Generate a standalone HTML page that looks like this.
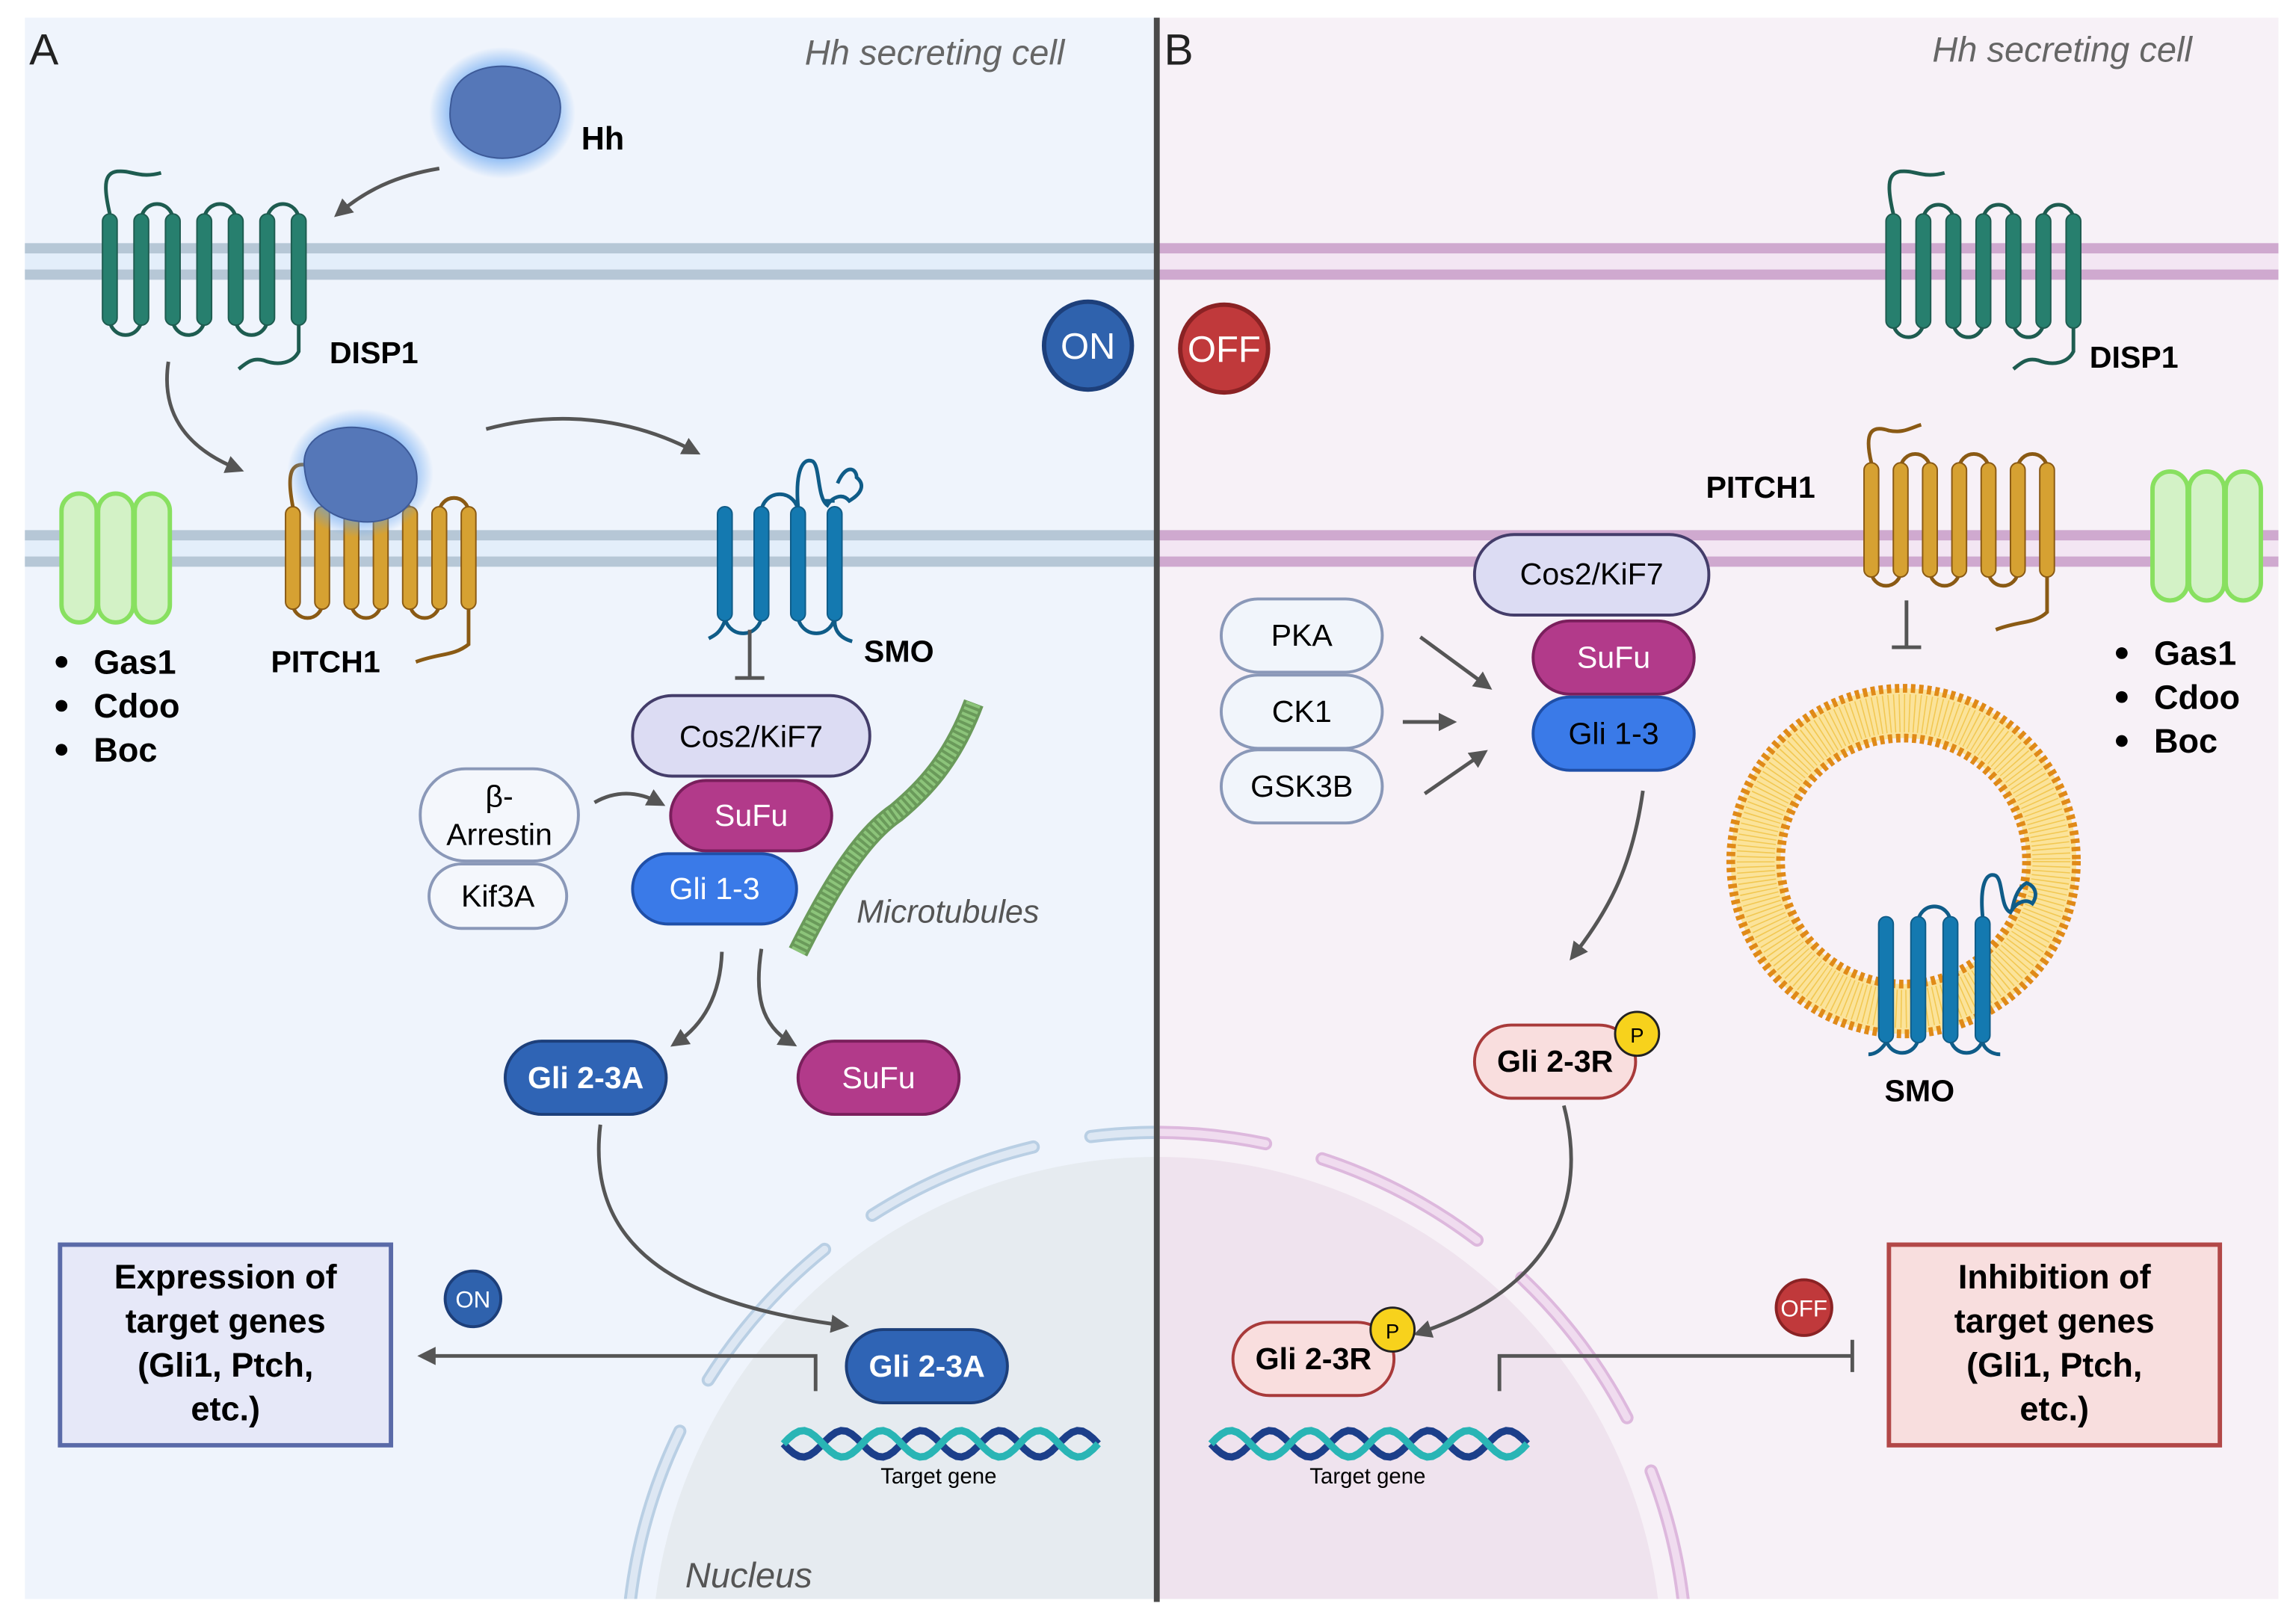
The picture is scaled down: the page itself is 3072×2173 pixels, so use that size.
<!DOCTYPE html>
<html><head><meta charset="utf-8">
<style>
html,body{margin:0;padding:0;background:#fff;overflow:hidden;width:3072px;height:2173px}
svg{display:block}
text{font-family:"Liberation Sans",sans-serif}
</style></head>
<body>
<svg id="s" width="3072" height="2173" viewBox="0 0 1568 1109" xmlns="http://www.w3.org/2000/svg">
<defs>
<radialGradient id="glow"><stop offset="0.6" stop-color="#5a9ef0" stop-opacity="0.8"/><stop offset="1" stop-color="#5a9ef0" stop-opacity="0"/></radialGradient>
<marker id="ar" viewBox="0 0 10 10" refX="6" refY="5" markerWidth="5" markerHeight="5" orient="auto"><path d="M0,0 L10,5 L0,10 z" fill="#555"/></marker>
<clipPath id="cA"><rect x="17" y="12" width="771" height="1080"/></clipPath>
<clipPath id="cB"><rect x="792" y="12" width="764" height="1080"/></clipPath>
</defs>
<rect x="17" y="12" width="773" height="1080" fill="#eff4fc"/>
<rect x="790" y="12" width="766" height="1080" fill="#f7f1f7"/>
<g clip-path="url(#cA)"><path d="M447.7,1092 A345,345 0 0 1 1132.3,1092 Z" fill="#e6ebf0"/></g>
<g clip-path="url(#cB)"><path d="M447.7,1092 A345,345 0 0 1 1132.3,1092 Z" fill="#efe3ee"/></g>
<g fill="none" stroke-width="9" stroke-linecap="round">
<g clip-path="url(#cA)">
<path d="M430.6,1092 A362,362 0 0 1 1149.4,1092" stroke-dasharray="120 40" stroke="#b9cfe4"/>
<path d="M430.6,1092 A362,362 0 0 1 1149.4,1092" stroke-dasharray="120 40" stroke="#dde7f3" stroke-width="5"/>
</g>
<g clip-path="url(#cB)">
<path d="M430.6,1092 A362,362 0 0 1 1149.4,1092" stroke-dasharray="120 40" stroke="#ddb8dd"/>
<path d="M430.6,1092 A362,362 0 0 1 1149.4,1092" stroke-dasharray="120 40" stroke="#f0dcef" stroke-width="5"/>
</g>
</g>
<g>
<rect x="17" y="168" width="773" height="22" fill="#e3eefa"/>
<rect x="17" y="166" width="773" height="7" fill="#b6c7d6"/>
<rect x="17" y="184" width="773" height="7" fill="#b6c7d6"/>
<rect x="17" y="364" width="773" height="22" fill="#e3eefa"/>
<rect x="17" y="362" width="773" height="7" fill="#b6c7d6"/>
<rect x="17" y="380" width="773" height="7" fill="#b6c7d6"/>
<rect x="790" y="168" width="766" height="22" fill="#f3e6f3"/>
<rect x="790" y="166" width="766" height="7" fill="#cfa9cf"/>
<rect x="790" y="184" width="766" height="7" fill="#cfa9cf"/>
<rect x="790" y="364" width="766" height="22" fill="#f3e6f3"/>
<rect x="790" y="362" width="766" height="7" fill="#cfa9cf"/>
<rect x="790" y="380" width="766" height="7" fill="#cfa9cf"/>
</g>
<rect x="788" y="12" width="4" height="1082" fill="#4a4a4a"/>
<circle cx="1300" cy="588" r="101" fill="none" stroke="#fbe39a" stroke-width="34"/>
<circle cx="1300" cy="588" r="101" fill="none" stroke="#f0c040" stroke-width="26" stroke-dasharray="0.8 2.6" opacity="0.8"/>
<circle cx="1300" cy="588" r="118" fill="none" stroke="#e08a18" stroke-width="6" stroke-dasharray="3 2.5"/>
<circle cx="1300" cy="588" r="84" fill="none" stroke="#e08a18" stroke-width="6" stroke-dasharray="3 2.5"/>
<g id="prot"></g>
<text x="20" y="44" font-size="30" fill="#222">A</text>
<text x="795" y="44" font-size="30" fill="#222">B</text>
<text x="727" y="44" font-size="24" font-style="italic" fill="#666" text-anchor="end">Hh secreting cell</text>
<text x="1497" y="42" font-size="24" font-style="italic" fill="#666" text-anchor="end">Hh secreting cell</text>
<ellipse cx="343" cy="77" rx="50" ry="45" fill="url(#glow)"/>
<path d="M308,70 C310,45 345,40 365,50 C390,60 385,85 372,98 C355,112 330,110 318,100 C308,92 306,82 308,70z" fill="#5577b8" stroke="#3d5a98"/>
<text x="397" y="102" font-size="22" font-weight="bold">Hh</text>
<path d="M300,115 C270,120 250,130 232,145" fill="none" stroke="#555" stroke-width="2.5" marker-end="url(#ar)"/>
<text x="225" y="248" font-size="21" font-weight="bold">DISP1</text>
<text x="1427" y="251" font-size="21" font-weight="bold">DISP1</text>
<path d="M115,247 C110,280 125,305 162,320" fill="none" stroke="#555" stroke-width="2.5" marker-end="url(#ar)"/>
<path d="M332,293 C380,280 430,285 474,308" fill="none" stroke="#555" stroke-width="2.5" marker-end="url(#ar)"/>
<circle cx="743" cy="236" r="30" fill="#2f62ad" stroke="#1d3f7a" stroke-width="3"/>
<text x="743" y="245" font-size="25" fill="#fff" text-anchor="middle">ON</text>
<circle cx="836" cy="238" r="30" fill="#c0393b" stroke="#8a2224" stroke-width="3"/>
<text x="836" y="247" font-size="25" fill="#fff" text-anchor="middle">OFF</text>
<g font-size="23" font-weight="bold">
<circle cx="42" cy="452" r="4"/><text x="64" y="460">Gas1</text>
<circle cx="42" cy="482" r="4"/><text x="64" y="490">Cdoo</text>
<circle cx="42" cy="512" r="4"/><text x="64" y="520">Boc</text>
<circle cx="1449" cy="446" r="4"/><text x="1471" y="454">Gas1</text>
<circle cx="1449" cy="476" r="4"/><text x="1471" y="484">Cdoo</text>
<circle cx="1449" cy="506" r="4"/><text x="1471" y="514">Boc</text>
</g>
<text x="185" y="459" font-size="21" font-weight="bold">PITCH1</text>
<text x="1165" y="340" font-size="21" font-weight="bold">PITCH1</text>
<text x="590" y="452" font-size="21" font-weight="bold">SMO</text>
<text x="1287" y="752" font-size="21" font-weight="bold">SMO</text>
<path d="M512,430 V463 M502,463 H522" stroke="#555" stroke-width="2.5"/>
<path d="M1302,410 V442 M1292,442 H1312" stroke="#555" stroke-width="2.5"/>
<path d="M545,650 C570,600 590,570 612,555 C630,540 650,520 665,480" stroke="#6a9a5a" stroke-width="14" fill="none"/>
<path d="M545,650 C570,600 590,570 612,555 C630,540 650,520 665,480" stroke="#8cc47a" stroke-width="10" fill="none" stroke-dasharray="2 2"/>
<text x="585" y="630" font-size="22" font-style="italic" fill="#555">Microtubules</text>
<rect x="432" y="475" width="162" height="55" rx="27" fill="#dcdcf3" stroke="#443d6a" stroke-width="2"/>
<text x="513" y="510" font-size="21" text-anchor="middle">Cos2/KiF7</text>
<rect x="458" y="533" width="110" height="48" rx="24" fill="#b23a8a" stroke="#7a1f5c" stroke-width="2"/>
<text x="513" y="564" font-size="21" fill="#fff" text-anchor="middle">SuFu</text>
<rect x="432" y="583" width="112" height="48" rx="24" fill="#3a7ae8" stroke="#1f4fa8" stroke-width="2"/>
<text x="488" y="614" font-size="21" fill="#fff" text-anchor="middle">Gli 1-3</text>
<rect x="287" y="525" width="108" height="63" rx="31" fill="#f4f7fc" stroke="#8a98b8" stroke-width="2"/>
<text x="341" y="551" font-size="21" text-anchor="middle">β-</text>
<text x="341" y="577" font-size="21" text-anchor="middle">Arrestin</text>
<rect x="293" y="590" width="94" height="44" rx="22" fill="#f4f7fc" stroke="#8a98b8" stroke-width="2"/>
<text x="340" y="619" font-size="21" text-anchor="middle">Kif3A</text>
<path d="M406,548 C420,540 435,540 450,548" fill="none" stroke="#555" stroke-width="2.5" marker-end="url(#ar)"/>
<path d="M493,650 C492,680 480,700 462,712" fill="none" stroke="#555" stroke-width="2.5" marker-end="url(#ar)"/>
<path d="M520,648 C515,680 520,700 540,712" fill="none" stroke="#555" stroke-width="2.5" marker-end="url(#ar)"/>
<rect x="345" y="711" width="110" height="50" rx="25" fill="#2f64b5" stroke="#1d3f7a" stroke-width="2"/>
<text x="400" y="743" font-size="21" font-weight="bold" fill="#fff" text-anchor="middle">Gli 2-3A</text>
<rect x="545" y="711" width="110" height="50" rx="25" fill="#b23a8a" stroke="#7a1f5c" stroke-width="2"/>
<text x="600" y="743" font-size="21" fill="#fff" text-anchor="middle">SuFu</text>
<path d="M410,768 C400,850 460,890 575,905" fill="none" stroke="#555" stroke-width="2.5" marker-end="url(#ar)"/>
<rect x="578" y="908" width="110" height="50" rx="25" fill="#2f64b5" stroke="#1d3f7a" stroke-width="2"/>
<text x="633" y="940" font-size="21" font-weight="bold" fill="#fff" text-anchor="middle">Gli 2-3A</text>
<path d="M557,950 V926 H290" fill="none" stroke="#555" stroke-width="2.5" marker-end="url(#ar)"/>
<circle cx="323" cy="887" r="19" fill="#2f62ad" stroke="#1d3f7a" stroke-width="2"/>
<text x="323" y="893" font-size="16" fill="#fff" text-anchor="middle">ON</text>
<rect x="41" y="850" width="226" height="137" fill="#e6e8f8" stroke="#5a6aa8" stroke-width="3"/>
<g font-size="23" font-weight="bold" text-anchor="middle">
<text x="154" y="880">Expression of</text><text x="154" y="910">target genes</text><text x="154" y="940">(Gli1, Ptch,</text><text x="154" y="970">etc.)</text>
</g>
<g id="dnaA"></g>
<text x="641" y="1013" font-size="15" text-anchor="middle">Target gene</text>
<text x="468" y="1084" font-size="24" font-style="italic" fill="#555">Nucleus</text>
<rect x="1007" y="365" width="160" height="55" rx="27" fill="#dcdcf3" stroke="#443d6a" stroke-width="2"/>
<text x="1087" y="399" font-size="21" text-anchor="middle">Cos2/KiF7</text>
<rect x="1047" y="424" width="110" height="50" rx="25" fill="#b23a8a" stroke="#7a1f5c" stroke-width="2"/>
<text x="1102" y="456" font-size="21" fill="#fff" text-anchor="middle">SuFu</text>
<rect x="1047" y="476" width="110" height="50" rx="25" fill="#3a7ae8" stroke="#1f4fa8" stroke-width="2"/>
<text x="1102" y="508" font-size="21" text-anchor="middle">Gli 1-3</text>
<g fill="#f1f5fb" stroke="#8a98b8" stroke-width="2">
<rect x="834" y="409" width="110" height="50" rx="25"/>
<rect x="834" y="461" width="110" height="50" rx="25"/>
<rect x="834" y="512" width="110" height="50" rx="25"/>
</g>
<g font-size="21" text-anchor="middle"><text x="889" y="441">PKA</text><text x="889" y="493">CK1</text><text x="889" y="544">GSK3B</text></g>
<path d="M970,435 L1015,468" stroke="#555" stroke-width="2.5" marker-end="url(#ar)"/>
<path d="M958,493 L990,493" stroke="#555" stroke-width="2.5" marker-end="url(#ar)"/>
<path d="M973,542 L1012,515" stroke="#555" stroke-width="2.5" marker-end="url(#ar)"/>
<path d="M1122,540 C1115,590 1100,620 1075,652" fill="none" stroke="#555" stroke-width="2.5" marker-end="url(#ar)"/>
<rect x="1007" y="700" width="110" height="50" rx="25" fill="#f9dede" stroke="#a83a3a" stroke-width="2"/>
<text x="1062" y="732" font-size="21" font-weight="bold" text-anchor="middle">Gli 2-3R</text>
<circle cx="1118" cy="706" r="15" fill="#f7d21c" stroke="#222" stroke-width="1.5"/>
<text x="1118" y="712" font-size="14" text-anchor="middle">P</text>
<path d="M1068,755 C1085,820 1060,880 970,910" fill="none" stroke="#555" stroke-width="2.5" marker-end="url(#ar)"/>
<rect x="842" y="903" width="110" height="50" rx="25" fill="#f9dede" stroke="#a83a3a" stroke-width="2"/>
<text x="897" y="935" font-size="21" font-weight="bold" text-anchor="middle">Gli 2-3R</text>
<circle cx="951" cy="908" r="15" fill="#f7d21c" stroke="#222" stroke-width="1.5"/>
<text x="951" y="914" font-size="14" text-anchor="middle">P</text>
<path d="M1024,950 V926 H1265 M1265,915 V937" fill="none" stroke="#555" stroke-width="2.5"/>
<circle cx="1232" cy="893" r="19" fill="#c0393b" stroke="#8a2224" stroke-width="2"/>
<text x="1232" y="899" font-size="16" fill="#fff" text-anchor="middle">OFF</text>
<rect x="1290" y="850" width="226" height="137" fill="#f8dede" stroke="#b24848" stroke-width="3"/>
<g font-size="23" font-weight="bold" text-anchor="middle">
<text x="1403" y="880">Inhibition of</text><text x="1403" y="910">target genes</text><text x="1403" y="940">(Gli1, Ptch,</text><text x="1403" y="970">etc.)</text>
</g>
<g id="dnaB"></g>
<text x="934" y="1013" font-size="15" text-anchor="middle">Target gene</text>
</svg>
<script>
var NS="http://www.w3.org/2000/svg",P=document.getElementById('prot');
function el(t,a,p){var e=document.createElementNS(NS,t);for(var k in a)e.setAttribute(k,a[k]);(p||P).appendChild(e);return e;}
function tm(x0,d,t,b,n,fill,str,nt,ct){
 var s="";
 for(var i=0;i<n-1;i++){var xa=x0+i*d,xb=xa+d;
  if(i%2==1) s+="M"+xa+","+t+" A"+d/2+","+d/2+" 0 0 1 "+xb+","+t+" ";
  else s+="M"+xa+","+b+" A"+d/2+","+d/2+" 0 0 0 "+xb+","+b+" ";}
 if(nt) s+=nt; if(ct) s+=ct;
 el('path',{d:s,fill:'none',stroke:str,'stroke-width':2.5});
 for(var i=0;i<n;i++) el('rect',{x:x0+i*d-5,y:t-4,width:10,height:b-t+8,rx:5,fill:fill,stroke:str,'stroke-width':1});
}
tm(75,21.5,150,218,7,'#277f6e','#1e5c50',"M75,146 C70,125 72,118 80,117 C90,116 95,122 110,118 ","M204,222 V240 C200,248 190,250 180,246 C172,244 168,248 163,252");
tm(1293,20.5,150,220,7,'#277f6e','#1e5c50',"M1293,146 C1288,125 1290,118 1298,117 C1308,116 1313,122 1328,118 ","M1416,224 V240 C1412,248 1402,250 1392,246 C1384,244 1380,248 1375,252");
tm(200,20,350,412,7,'#d6a132','#8a5a14',"M200,346 C195,320 200,315 212,318 ","M320,416 V440 C310,448 300,446 284,452");
tm(1278,20,320,390,7,'#d6a132','#8a5a14',"M1278,316 C1273,295 1278,290 1290,294 C1300,296 1305,292 1312,290 ","M1398,394 V418 C1390,426 1378,424 1363,430");
tm(495,25,350,420,4,'#1479b0','#0f5c88',"M495,424 C492,432 488,434 484,436 ","M545,346 C543,322 548,312 555,315 C560,318 558,340 565,345 C568,340 575,336 580,342 C590,336 590,330 585,326 C585,320 578,316 572,330 M562,342 L570,342 M570,424 C570,432 575,436 582,438");
tm(1288,22,630,708,4,'#1479b0','#0f5c88',"M1288,712 C1284,718 1280,720 1276,720 ","M1354,626 C1352,605 1356,595 1363,598 C1368,601 1366,620 1373,623 C1376,617 1383,613 1388,617 C1392,611 1390,605 1384,603 C1380,605 1376,610 1374,622 M1354,712 C1356,718 1362,720 1366,720");
el('ellipse',{cx:246,cy:323,rx:50,ry:44,fill:'url(#glow)'});
el('path',{d:"M208,320 C205,300 225,290 245,292 C275,295 290,315 283,338 C277,352 260,358 245,356 C225,354 210,342 208,320z",fill:'#5577b8',stroke:'#3d5a98'});
function gas(x,y){for(var i=0;i<3;i++){el('rect',{x:x+i*25,y:y,width:24,height:88,rx:12,fill:'#d3f2c6',stroke:'#88e060','stroke-width':3});}}
gas(42,337);gas(1470,322);
function dna(g,x0,x1,y){var G=document.getElementById(g);var s1="",s2="",k=(x1-x0);
 for(var i=0;i<=60;i++){var x=x0+k*i/60,a=i/60*Math.PI*8;var y1=y+9*Math.sin(a),y2=y-9*Math.sin(a);s1+=(i?"L":"M")+x.toFixed(1)+","+y1.toFixed(1);s2+=(i?"L":"M")+x.toFixed(1)+","+y2.toFixed(1);}
 el('path',{d:s1,fill:'none',stroke:'#1c3f8a','stroke-width':5},G);
 el('path',{d:s2,fill:'none',stroke:'#29b5b5','stroke-width':5},G);}
dna('dnaA',535,750,986);dna('dnaB',827,1043,986);
</script>
</body></html>
